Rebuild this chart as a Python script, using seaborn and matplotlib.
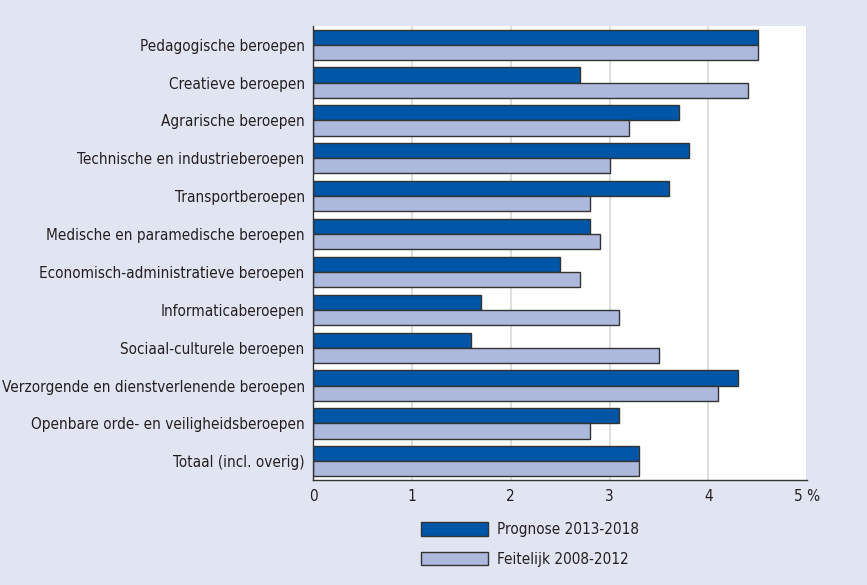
import numpy as np
import pandas as pd
import matplotlib
matplotlib.use("Agg")
import matplotlib.pyplot as plt
from matplotlib import font_manager
import seaborn as sns

# Gegevens
beroepen = [
    "Pedagogische beroepen",
    "Creatieve beroepen",
    "Agrarische beroepen",
    "Technische en industrieberoepen",
    "Transportberoepen",
    "Medische en paramedische beroepen",
    "Economisch-administratieve beroepen",
    "Informaticaberoepen",
    "Sociaal-culturele beroepen",
    "Verzorgende en dienstverlenende beroepen",
    "Openbare orde- en veiligheidsberoepen",
    "Totaal (incl. overig)",
]
prognose = [4.5, 2.7, 3.7, 3.8, 3.6, 2.8, 2.5, 1.7, 1.6, 4.3, 3.1, 3.3]
feitelijk = [4.5, 4.4, 3.2, 3.0, 2.8, 2.9, 2.7, 3.1, 3.5, 4.1, 2.8, 3.3]
reeksen = ["Prognose 2013-2018", "Feitelijk 2008-2012"]
xticklabels = ["0", "1", "2", "3", "4", "5 %"]

df = pd.DataFrame({
    "beroep": beroepen * 2,
    "waarde": prognose + feitelijk,
    "reeks": [reeksen[0]] * len(beroepen) + [reeksen[1]] * len(beroepen),
})

sns.set_style("white")
namen = {f.name for f in font_manager.fontManager.ttflist}
smal = [n for n in ["Liberation Sans Narrow", "DejaVu Sans Condensed"] if n in namen]
plt.rcParams["font.family"] = smal + ["DejaVu Sans"]
plt.rcParams["font.stretch"] = "condensed"

bg = "#e1e5f2"
tekst = "#231f20"
fig = plt.figure(figsize=(8.67, 5.85), dpi=100, facecolor=bg)
ax = fig.add_axes([0.361, 0.179, 0.570, 0.777])
ax.set_facecolor("white")

sns.barplot(data=df, y="beroep", x="waarde", hue="reeks", orient="h",
            palette=["#0056a6", "#adb8dd"], saturation=1, width=0.8,
            edgecolor="#333333", linewidth=1.0, ax=ax, legend=True)

ax.set_xlim(0, 5)
ax.set_ylim(len(beroepen) - 0.5, -0.5)
ax.set_xticks(range(6))
ax.set_xticklabels(xticklabels, fontsize=11, color=tekst)
ax.tick_params(axis="x", length=0, pad=6)
ax.grid(axis="x", color="#d9d9d9", linewidth=1.2)
ax.set_axisbelow(True)

ax.set_yticks(range(len(beroepen)))
ax.set_yticklabels(beroepen, fontsize=11, color=tekst)
ax.tick_params(axis="y", which="major", length=0, pad=6)
ax.set_yticks(np.arange(-0.5, len(beroepen)), minor=True)
ax.tick_params(axis="y", which="minor", length=10, width=1.0, color="#333333")

for s in ["top", "right"]:
    ax.spines[s].set_visible(False)
for s in ["left", "bottom"]:
    ax.spines[s].set_color("#333333")
    ax.spines[s].set_linewidth(1.0)

ax.set_xlabel("")
ax.set_ylabel("")

leg = ax.legend(loc="upper left", bbox_to_anchor=(0.19, -0.062), frameon=False,
                fontsize=11, handlelength=4.4, handleheight=0.95,
                labelspacing=0.95, handletextpad=0.6)
for t in leg.get_texts():
    t.set_color(tekst)

fig.savefig("out.png", dpi=100, facecolor=bg)
